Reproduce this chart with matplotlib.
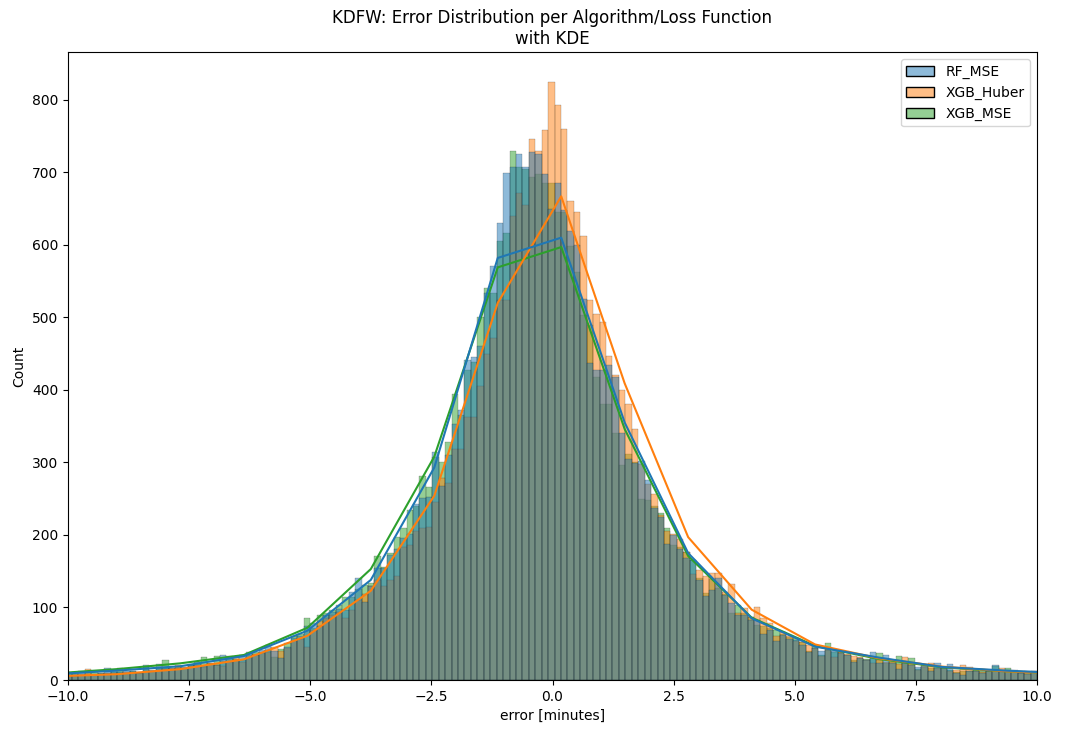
import matplotlib.pyplot as plt
import numpy as np
from matplotlib.colors import to_rgba
from matplotlib.patches import Patch

# histogram counts per bin (shared bins)
rf_mse = [9, 11, 12, 7, 8, 10, 16, 12, 11, 12, 13, 10, 20, 14, 22, 16, 17, 16, 18, 21, 25, 19, 22, 21, 34, 33,
          28, 35, 38, 35, 42, 48, 40, 30, 46, 58, 60, 74, 78, 74, 90, 94, 98, 97, 122, 140, 108, 130, 155, 154, 172,
          181, 196, 201, 243, 251, 253, 315, 268, 310, 353, 373, 441, 446, 460, 534, 571, 630, 699, 707, 726, 708,
          728, 726, 698, 650, 685, 648, 619, 600,
          526, 437, 428, 428, 434, 418, 340, 305, 299, 302, 276, 237, 225, 188, 200, 181, 168, 165, 138, 116, 124,
          140, 117, 106, 90, 90, 83, 83, 64, 69, 54, 62, 57, 55, 48, 38, 44, 40, 41, 40, 37, 35, 25, 31, 28, 38, 23,
          34, 24, 15, 23, 21, 18, 19, 13, 24, 16, 22, 9, 7, 13, 13, 10, 12, 20, 13, 14, 13, 9, 8, 11]
xgb_huber = [5, 6, 8, 15, 7, 8, 9, 10, 9, 11, 10, 9, 12, 12, 14, 15, 16, 20, 17, 19, 21, 18, 24, 20, 19, 25,
             32, 25, 32, 36, 37, 39, 46, 40, 44, 55, 57, 46, 69, 82, 85, 90, 94, 85, 96, 110, 119, 129, 138, 129, 138,
             143, 184, 186, 206, 209, 211, 246, 278, 271, 318, 318, 363, 363, 406, 450, 471, 524, 524, 640, 672, 655,
             746, 730, 759, 825, 793, 760, 661, 645,
             612, 524, 505, 494, 447, 420, 400, 380, 346, 298, 270, 257, 228, 205, 202, 195, 176, 146, 151, 144, 148,
             148, 122, 132, 92, 99, 87, 100, 86, 78, 60, 66, 60, 54, 52, 48, 44, 33, 43, 32, 39, 36, 33, 32, 27, 23, 27,
             25, 26, 22, 32, 24, 14, 20, 23, 17, 18, 12, 14, 21, 18, 13, 11, 13, 14, 16, 13, 14, 10, 13, 12]
xgb_mse = [10, 8, 7, 9, 13, 9, 10, 11, 17, 10, 12, 11, 18, 13, 16, 27, 15, 18, 16, 20, 24, 32, 23, 33, 26, 30,
           29, 27, 34, 39, 38, 42, 32, 43, 51, 60, 64, 85, 72, 90, 92, 97, 104, 115, 115, 125, 131, 134, 171, 156, 175,
           197, 209, 234, 240, 281, 266, 308, 300, 328, 394, 365, 427, 439, 500, 540, 534, 606, 616, 730, 708, 705,
           694, 698, 685, 685, 646, 645, 598, 562,
           503, 490, 418, 381, 381, 340, 297, 312, 300, 250, 248, 240, 230, 209, 186, 183, 176, 165, 140, 120, 139,
           127, 118, 92, 103, 92, 87, 76, 74, 72, 69, 63, 59, 58, 52, 40, 47, 35, 51, 38, 38, 35, 27, 30, 29, 30, 37,
           24, 25, 33, 25, 31, 15, 18, 17, 16, 17, 14, 11, 12, 12, 14, 12, 12, 19, 14, 17, 13, 11, 9, 12]

# coarse KDE curves (scaled to counts)
kde_x = [-10.30, -8.99, -7.68, -6.37, -5.06, -3.75, -2.44, -1.13, 0.18, 1.49, 2.80, 4.11, 5.42, 6.73, 8.04, 9.35, 10.66]
kde_rf = [8, 13, 19, 33, 68, 138, 293, 582, 610, 355, 175, 85, 46, 31, 18, 13, 9]
kde_huber = [5, 8, 15, 28.5, 61, 123, 254, 520, 667, 409, 197, 97, 49, 30, 18.5, 12, 9]
kde_mse = [9, 15, 23, 34.5, 72, 153, 308, 569, 597, 346, 171, 86, 47, 29, 17.5, 12, 9]

labels = ['RF_MSE', 'XGB_Huber', 'XGB_MSE']
colors = ['#1f77b4', '#ff7f0e', '#2ca02c']

bin_start = -10.05
bin_width = 0.1328
edges = bin_start + bin_width * np.arange(len(rf_mse) + 1)

fig = plt.figure(figsize=(10.65, 7.32), dpi=100)
ax = fig.add_axes([68 / 1065, 52 / 732, 969 / 1065, 628 / 732])

counts = [rf_mse, xgb_huber, xgb_mse]
kdes = [kde_rf, kde_huber, kde_mse]

# seaborn draws hue levels in reverse order
for i in [2, 1, 0]:
    ax.bar(edges[:-1], counts[i], width=np.diff(edges), align='edge',
           facecolor=to_rgba(colors[i], 0.5), edgecolor='black', linewidth=0.12)
for i in [2, 1, 0]:
    ax.plot(kde_x, kdes[i], color=colors[i], linewidth=1.5)

ax.set_xlim(-10, 10)
ax.set_ylim(0, 866)
ax.set_xlabel('error [minutes]')
ax.set_ylabel('Count')
ax.set_title('KDFW: Error Distribution per Algorithm/Loss Function\nwith KDE')

handles = [Patch(facecolor=to_rgba(c, 0.5), edgecolor='black', linewidth=1) for c in colors]
ax.legend(handles, labels, loc='upper right')

fig.savefig('out.png', dpi=100)
